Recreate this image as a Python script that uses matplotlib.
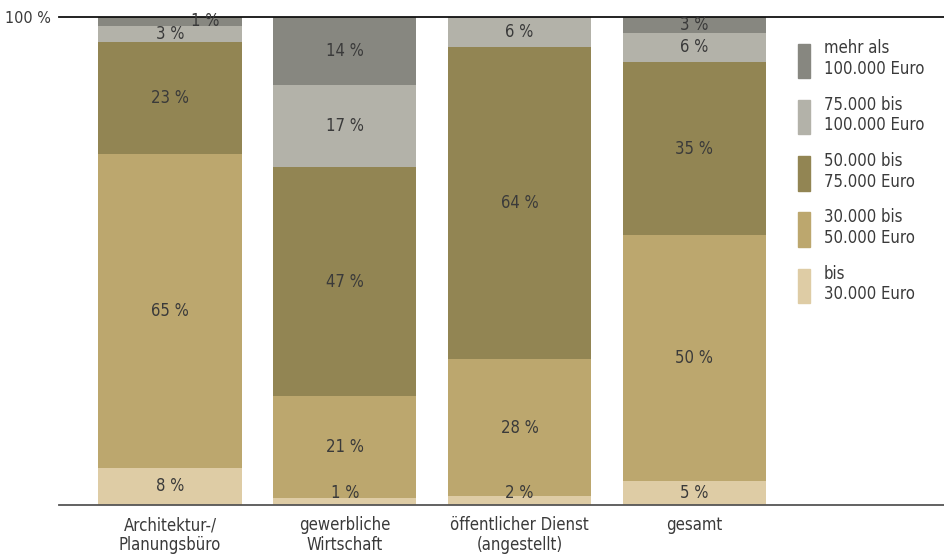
import matplotlib.pyplot as plt
import numpy as np
from matplotlib.patches import Patch

plt.rcParams['font.family'] = ['DejaVu Sans']
plt.rcParams['font.stretch'] = 'condensed'

# Kategorien und Anteile (gemessene Höhen, Beschriftung gerundet)
categories = ["Architektur-/\nPlanungsbüro", "gewerbliche\nWirtschaft",
              "öffentlicher Dienst\n(angestellt)", "gesamt"]
series_names = ["bis\n30.000 Euro", "30.000 bis\n50.000 Euro", "50.000 bis\n75.000 Euro",
                "75.000 bis\n100.000 Euro", "mehr als\n100.000 Euro"]
heights = [
    [7.6, 1.4, 1.8, 4.9],
    [64.3, 20.9, 28.1, 50.4],
    [23.0, 46.9, 63.9, 35.5],
    [3.3, 16.8, 6.2, 5.9],
    [1.8, 14.0, 0.0, 3.3],
]
labels = [
    [8, 1, 2, 5],
    [65, 21, 28, 50],
    [23, 47, 64, 35],
    [3, 17, 6, 6],
    [1, 14, None, 3],
]
colors = ["#decca5", "#bca76e", "#928553", "#b3b2a9", "#878780"]


def main():
    fig = plt.figure(figsize=(9.44, 5.55), dpi=100)
    ax = fig.add_axes([59 / 944, 50 / 555, 885 / 944, 488 / 555])

    x = np.arange(len(categories))
    bottom = np.zeros(len(categories))
    for i in range(len(series_names)):
        h = np.array(heights[i])
        ax.bar(x, h, bottom=bottom, width=0.82, color=colors[i], label=series_names[i])
        for j in range(len(categories)):
            if labels[i][j] is None:
                continue
            yc = max(bottom[j] + h[j] / 2, 2.4)
            xc = x[j] + (0.2 if (i == 4 and j == 0) else 0)
            ax.text(xc, yc, f"{labels[i][j]} %", ha='center', va='center',
                    fontsize=12, color='#3a3a3a')
        bottom += h

    ax.set_xlim(-0.636, 4.43)
    ax.set_ylim(0, 100)
    for s in ['left', 'right']:
        ax.spines[s].set_visible(False)
    ax.spines['top'].set_color('#111111')
    ax.spines['bottom'].set_color('#555555')
    ax.spines['top'].set_linewidth(1.3)
    ax.spines['bottom'].set_linewidth(1.3)
    ax.set_yticks([100])
    ax.set_yticklabels(["100 %"], fontsize=11.5, color='#3a3a3a')
    ax.set_xticks(x)
    ax.set_xticklabels(categories, fontsize=12, color='#3a3a3a', linespacing=1.1)
    ax.tick_params(length=0, pad=8)
    ax.tick_params(axis='y', pad=6)

    handles = [Patch(color=colors[i]) for i in range(len(colors))][::-1]
    ax.legend(handles, series_names[::-1], loc='upper left', bbox_to_anchor=(0.818, 0.985),
              frameon=False, fontsize=12, handlelength=0.75, handleheight=2.8,
              handletextpad=0.8, labelspacing=1.05, labelcolor='#3a3a3a')

    fig.savefig("out.png")


if __name__ == '__main__':
    main()
